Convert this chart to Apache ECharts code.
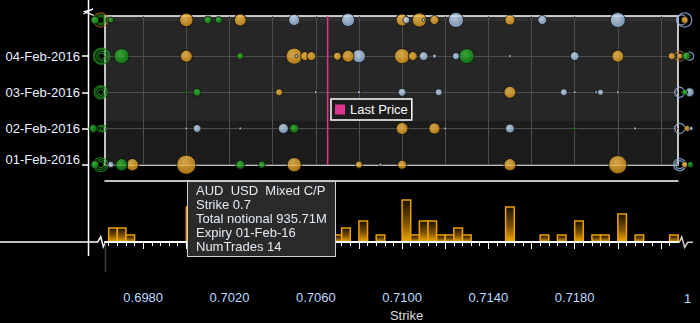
<!DOCTYPE html>
<html><head><meta charset="utf-8">
<script src="https://cdn.jsdelivr.net/npm/echarts@6/dist/echarts.min.js"></script>
<style>html,body{margin:0;padding:0;background:#000;}#c{width:700px;height:323px;}</style>
</head><body><div id="c"></div>
<script>
// ---------- data ----------
const expiries = ['01-Feb-2016', '02-Feb-2016', '03-Feb-2016', '04-Feb-2016', '05-Feb-2016'];
const labeledRows = [0, 1, 2, 3];
const gridTicks = [0.698, 0.700, 0.702, 0.704, 0.706, 0.708, 0.710, 0.712, 0.714, 0.716, 0.718, 0.720, 0.722];
const strikeLabels = [0.698, 0.702, 0.706, 0.710, 0.714, 0.718];
const xMin = 0.69623, xMax = 0.72279;
const yMin = -0.01, yMax = 4.11;
const lastPrice = 0.70655;
const binWidth = 0.0004;

// [strike, expiry row, total notional (M), numTrades]
const mixedTrades = [
  [0.7000, 4, 466], [0.7025, 4, 373], [0.7100, 4, 373], [0.7108, 4, 508], [0.7115, 4, 210], [0.7150, 4, 259], [0.7231, 4, 127],
  [0.7000, 3, 373], [0.7050, 3, 664], [0.7055, 3, 210], [0.7058, 3, 210], [0.7070, 3, 166], [0.7075, 3, 373],
  [0.7100, 3, 583], [0.7105, 3, 210], [0.7200, 3, 373], [0.7225, 3, 127], [0.72287, 3, 93],
  [0.7043, 2, 127], [0.7150, 2, 373],
  [0.7100, 1, 373], [0.7115, 1, 314], [0.72322, 1, 93],
  [0.6975, 0, 373], [0.7000, 0, 935.71, 14], [0.7050, 0, 508], [0.7080, 0, 127], [0.7100, 0, 210],
  [0.7150, 0, 373], [0.7200, 0, 840], [0.7231, 0, 93]
];
const callTrades = [
  [0.69576, 4, 166], [0.6965, 4, 93], [0.7010, 4, 166], [0.7015, 4, 127],
  [0.6970, 3, 583], [0.7025, 3, 127], [0.7130, 3, 583], [0.72318, 3, 166],
  [0.7000, 2, 23], [0.7005, 2, 166], [0.7231, 2, 93],
  [0.69568, 1, 166], [0.7050, 1, 210], [0.7180, 1, 23],
  [0.69576, 0, 166], [0.6970, 0, 373], [0.7025, 0, 210], [0.7035, 0, 127], [0.72336, 0, 93]
];
const putTrades = [
  [0.7050, 4, 314], [0.7075, 4, 438], [0.7102, 4, 127], [0.7110, 4, 23], [0.7125, 4, 583], [0.7165, 4, 210], [0.7200, 4, 583],
  [0.7051, 3, 23], [0.7080, 3, 438], [0.7110, 3, 210], [0.7115, 3, 41], [0.7125, 3, 127], [0.7150, 3, 23], [0.7180, 3, 210],
  [0.7060, 2, 23], [0.7080, 2, 30], [0.7100, 2, 166], [0.7117, 2, 127], [0.7175, 2, 127], [0.7180, 2, 23],
  [0.7190, 2, 23], [0.7192, 2, 93], [0.7200, 2, 23], [0.72333, 2, 210],
  [0.7000, 1, 23], [0.7005, 1, 166], [0.7025, 1, 23], [0.7045, 1, 259], [0.7120, 1, 23], [0.7150, 1, 210], [0.7208, 1, 23], [0.7234, 1, 41],
  [0.6965, 0, 93], [0.7090, 0, 23]
];
// out-of-range trades drawn as rings at the axis edges: [strike, row, notional, kind]
const edgeRings = [
  [0.69603, 4, 127, 'C'], [0.69603, 4, 259, 'C'], [0.69603, 4, 508, 'M'],
  [0.69607, 3, 93, 'C'], [0.69607, 3, 259, 'C'], [0.69607, 3, 508, 'C'], [0.69607, 3, 664, 'C'],
  [0.69603, 2, 93, 'C'], [0.69603, 2, 259, 'C'], [0.69603, 2, 438, 'C'],
  [0.69603, 1, 93, 'C'], [0.69615, 1, 93, 'C'],
  [0.69603, 0, 93, 'C'], [0.69603, 0, 259, 'C'], [0.69603, 0, 508, 'C'],
  [0.72295, 4, 259, 'P'], [0.7231, 4, 508, 'P'],
  [0.72287, 3, 259, 'M'], [0.72333, 3, 166, 'P'],
  [0.72287, 2, 259, 'P'],
  [0.72287, 1, 259, 'P'],
  [0.72287, 0, 373, 'P'], [0.72287, 0, 166, 'P']
];
// histogram of trades per strike bin (bin start, count)
const histBins = [0.6964, 0.6968, 0.6972, 0.7000, 0.7004, 0.7008, 0.7012, 0.7024, 0.7032, 0.7040, 0.7044, 0.7048,
  0.7052, 0.7056, 0.7060, 0.7068, 0.7072, 0.7080, 0.7088, 0.7100, 0.7104, 0.7108, 0.7112, 0.7116, 0.7120,
  0.7124, 0.7128, 0.7148, 0.7164, 0.7172, 0.7180, 0.7188, 0.7192, 0.7200, 0.7208, 0.7224];
const histCounts = [2, 2, 1, 5, 2, 1, 1, 3, 1, 2, 2, 4,
  2, 2, 1, 1, 2, 3, 1, 6, 1, 3, 3, 1, 1,
  2, 1, 5, 1, 1, 3, 1, 1, 4, 1, 1];
const bandEdges = [-0.01, 1.21, 3.97, 4.11];

// ---------- styles ----------
const FONT = 'Liberation Sans, Arial, sans-serif';
const bandColors = ['#1c1c1c', '#262626', '#2f2f2f'];
const kindNames = { C: 'Call', P: 'Put', M: 'Mixed C/P' };
const G = echarts.graphic;
const fills = {
  C: new G.RadialGradient(0.4, 0.35, 0.7, [{ offset: 0, color: '#3cc23c' }, { offset: 1, color: '#0b7a0b' }]),
  M: new G.RadialGradient(0.4, 0.35, 0.7, [{ offset: 0, color: '#f9c553' }, { offset: 1, color: '#d58e10' }]),
  P: new G.RadialGradient(0.4, 0.35, 0.7, [{ offset: 0, color: '#d6e7f9' }, { offset: 1, color: '#86aad3' }])
};
const ringColors = { C: '#1c8c1c', M: '#9a6a14', P: '#8fb2da' };
const sizeOf = (n) => 0.621 * Math.sqrt(n);

const minorTicks = [];
for (let k = 1741; k <= 1807; k++) minorTicks.push(+(k * binWidth).toFixed(4));

const bubbleData = []
  .concat(mixedTrades.map(d => ({ value: d, kind: 'M' })))
  .concat(callTrades.map(d => ({ value: d, kind: 'C' })))
  .concat(putTrades.map(d => ({ value: d, kind: 'P' })))
  .sort((a, b) => b.value[2] - a.value[2])
  .map(d => ({ value: d.value, kind: d.kind, itemStyle: { color: fills[d.kind] } }));
const ringData = edgeRings
  .slice().sort((a, b) => b[2] - a[2])
  .map(d => ({ value: d.slice(0, 3), itemStyle: { borderColor: ringColors[d[3]] } }));

const chart = echarts.init(document.getElementById('c'), null, { renderer: 'svg' });
const option = {
  backgroundColor: '#000',
  animation: false,
  textStyle: { fontFamily: FONT },
  grid: [
    { left: 105, right: 22, top: 16, height: 149, show: true, borderColor: '#fff', borderWidth: 1.5, backgroundColor: 'transparent' },
    { left: 105, right: 22, top: 181, bottom: 81 },
    { left: 105, right: 22, top: 181, bottom: 81 }
  ],
  legend: {
    data: ['Last Price'], left: 331, top: 99, padding: [4, 4, 4, 4], itemWidth: 10, itemHeight: 10, icon: 'rect',
    selectedMode: false, backgroundColor: '#1c1c1c', borderColor: '#fff', borderWidth: 1.5,
    textStyle: { color: '#fff', fontSize: 13, fontFamily: FONT }
  },
  tooltip: {
    trigger: 'item', triggerOn: 'none', alwaysShowContent: true, showDelay: 0, transitionDuration: 0,
    backgroundColor: '#2a2a2a', borderColor: '#cfcfcf', borderWidth: 1, padding: [2, 8],
    textStyle: { color: '#e2eaf2', fontSize: 13, fontFamily: FONT, lineHeight: 14 },
    extraCssText: 'border-radius:0;box-shadow:none;white-space:nowrap;',
    position: (pt) => [pt[0] + 0.5, pt[1] + 16],
    formatter: (p) => {
      const v = p.value, d = p.data;
      const e = expiries[v[1]];
      const shortExp = e.slice(0, 7) + e.slice(9);
      return 'AUD&nbsp;&nbsp;USD&nbsp;&nbsp;' + kindNames[d.kind] + '<br>Strike ' + v[0] +
        '<br>Total notional ' + v[2].toFixed(2) + 'M<br>Expiry ' + shortExp + '<br>NumTrades ' + v[3];
    }
  },
  xAxis: [
    { gridIndex: 0, type: 'value', min: xMin, max: xMax,
      axisLine: { show: false }, axisTick: { show: false, customValues: gridTicks }, axisLabel: { show: false },
      splitLine: { show: true, lineStyle: { color: '#4e4e4e', width: 1 } } },
    { gridIndex: 1, type: 'value', min: xMin, max: xMax, position: 'bottom', z: 5,
      axisLine: { show: true, lineStyle: { color: '#fff', width: 2 } },
      axisTick: { show: true, customValues: gridTicks, length: 7, lineStyle: { color: '#fff', width: 1 } },
      axisLabel: { customValues: strikeLabels, margin: 49, formatter: v => v.toFixed(4), color: '#b9daff', fontSize: 13, fontFamily: FONT },
      splitLine: { show: false },
      name: 'Strike', nameLocation: 'middle', nameGap: 67,
      nameTextStyle: { color: '#dcdcdc', fontSize: 13, fontFamily: FONT, padding: [0, 0, 0, 30] } },
    { gridIndex: 1, type: 'value', min: xMin, max: xMax, position: 'top',
      axisLine: { show: true, lineStyle: { color: '#fff', width: 1.5 } }, axisTick: { show: false }, axisLabel: { show: false }, splitLine: { show: false } },
    { gridIndex: 2, type: 'value', min: xMin, max: xMax, position: 'bottom', z: 5,
      axisLine: { show: false },
      axisTick: { show: true, customValues: minorTicks, length: 4, lineStyle: { color: '#fff', width: 1 } },
      axisLabel: { show: false }, splitLine: { show: false } }
  ],
  yAxis: [
    { gridIndex: 0, type: 'value', min: yMin, max: yMax, offset: 17,
      axisLine: { show: false },
      axisTick: { show: true, customValues: labeledRows, length: 6, lineStyle: { color: '#fff', width: 1.5 } },
      axisLabel: { customValues: labeledRows, margin: 8, color: '#e8f1ff', fontSize: 13, fontFamily: FONT,
        formatter: v => { const i = Math.round(v); return i === 0 ? '{lo|' + expiries[0] + '}' : expiries[i]; },
        rich: { lo: { color: '#e8f1ff', fontSize: 13, fontFamily: FONT, padding: [0, 0, 10, 0] } } },
      splitLine: { show: true, lineStyle: { color: '#4e4e4e', width: 1 } } },
    { gridIndex: 1, type: 'value', min: 0, max: 61 / 7, show: false },
    { gridIndex: 2, type: 'value', min: 0, max: 61 / 7, show: false }
  ],
  series: [
    { type: 'custom', name: 'bands', xAxisIndex: 0, yAxisIndex: 0, z: -1, silent: true, clip: false,
      data: bandEdges.slice(0, -1).map((e, i) => [e, bandEdges[i + 1], i]),
      renderItem: (params, api) => {
        const a = api.coord([xMin, api.value(1)]), b = api.coord([xMax, api.value(0)]);
        return { type: 'rect', shape: { x: a[0], y: a[1], width: b[0] - a[0], height: b[1] - a[1] },
          style: { fill: bandColors[api.value(2)] } };
      } },
    { type: 'line', name: 'Last Price', xAxisIndex: 0, yAxisIndex: 0, symbol: 'none', silent: true,
      color: '#e0358e', itemStyle: { color: '#e0358e' }, lineStyle: { color: '#e0358e', width: 1.5 },
      data: [[lastPrice, yMin], [lastPrice, yMax]] },
    { type: 'scatter', name: 'edge', xAxisIndex: 0, yAxisIndex: 0, clip: false, silent: true,
      symbol: 'circle', symbolSize: v => sizeOf(v[2]),
      itemStyle: { color: 'rgba(0,0,0,0)', borderWidth: 1.3 }, data: ringData },
    { type: 'scatter', name: 'Trades', xAxisIndex: 0, yAxisIndex: 0, clip: false,
      symbol: 'circle', symbolSize: v => sizeOf(v[2]),
      itemStyle: { borderColor: '#111', borderWidth: 1 }, data: bubbleData },
    { type: 'custom', name: 'NumTrades', xAxisIndex: 1, yAxisIndex: 1, clip: false, silent: true,
      data: histBins.map((b, i) => [b, histCounts[i]]),
      renderItem: (params, api) => {
        const b = api.value(0), c = api.value(1);
        const tl = api.coord([b, c]), br = api.coord([b + binWidth, 0]);
        return { type: 'rect', shape: { x: tl[0], y: tl[1], width: br[0] - tl[0], height: br[1] - tl[1] },
          style: { fill: new G.LinearGradient(0, 0, 0, 1, [{ offset: 0, color: '#1a1100' }, { offset: 0.55, color: '#7c5200' }, { offset: 1, color: '#f5a900' }]),
            stroke: '#eda000', lineWidth: 1.5 } };
      } }
  ],
  graphic: [
    { type: 'line', silent: true, shape: { x1: 88.5, y1: 0, x2: 88.5, y2: 256 }, style: { stroke: '#fff', lineWidth: 1.5 } },
    { type: 'polyline', silent: true, shape: { points: [[83.5, 14], [93, 9], [84.5, 11.5], [94, 15.5]] }, style: { stroke: '#fff', lineWidth: 1.3, fill: null } },
    { type: 'polyline', silent: true, shape: { points: [[0, 242], [97.7, 242], [100.7, 236.7], [103.3, 246.7], [105.5, 242]] }, style: { stroke: '#fff', lineWidth: 1.5, fill: null } },
    { type: 'polyline', silent: true, shape: { points: [[678, 242], [679.5, 242], [681.7, 237], [684.7, 247.3], [687.7, 242.3], [693, 242.3]] }, style: { stroke: '#cfcfcf', lineWidth: 1.5, fill: null } },
    { type: 'line', silent: true, shape: { x1: 105.5, y1: 243, x2: 105.5, y2: 272 }, style: { stroke: '#3a3a3a', lineWidth: 1.5 } },
    { type: 'text', silent: true, left: 684, top: 292, style: { text: '1', fill: '#b9daff', fontSize: 13, fontFamily: FONT } }
  ]
};
chart.setOption(option);
const tipIndex = bubbleData.findIndex(d => d.value[3] !== undefined);
chart.dispatchAction({ type: 'showTip', seriesIndex: 3, dataIndex: tipIndex });
</script>
</body></html>
